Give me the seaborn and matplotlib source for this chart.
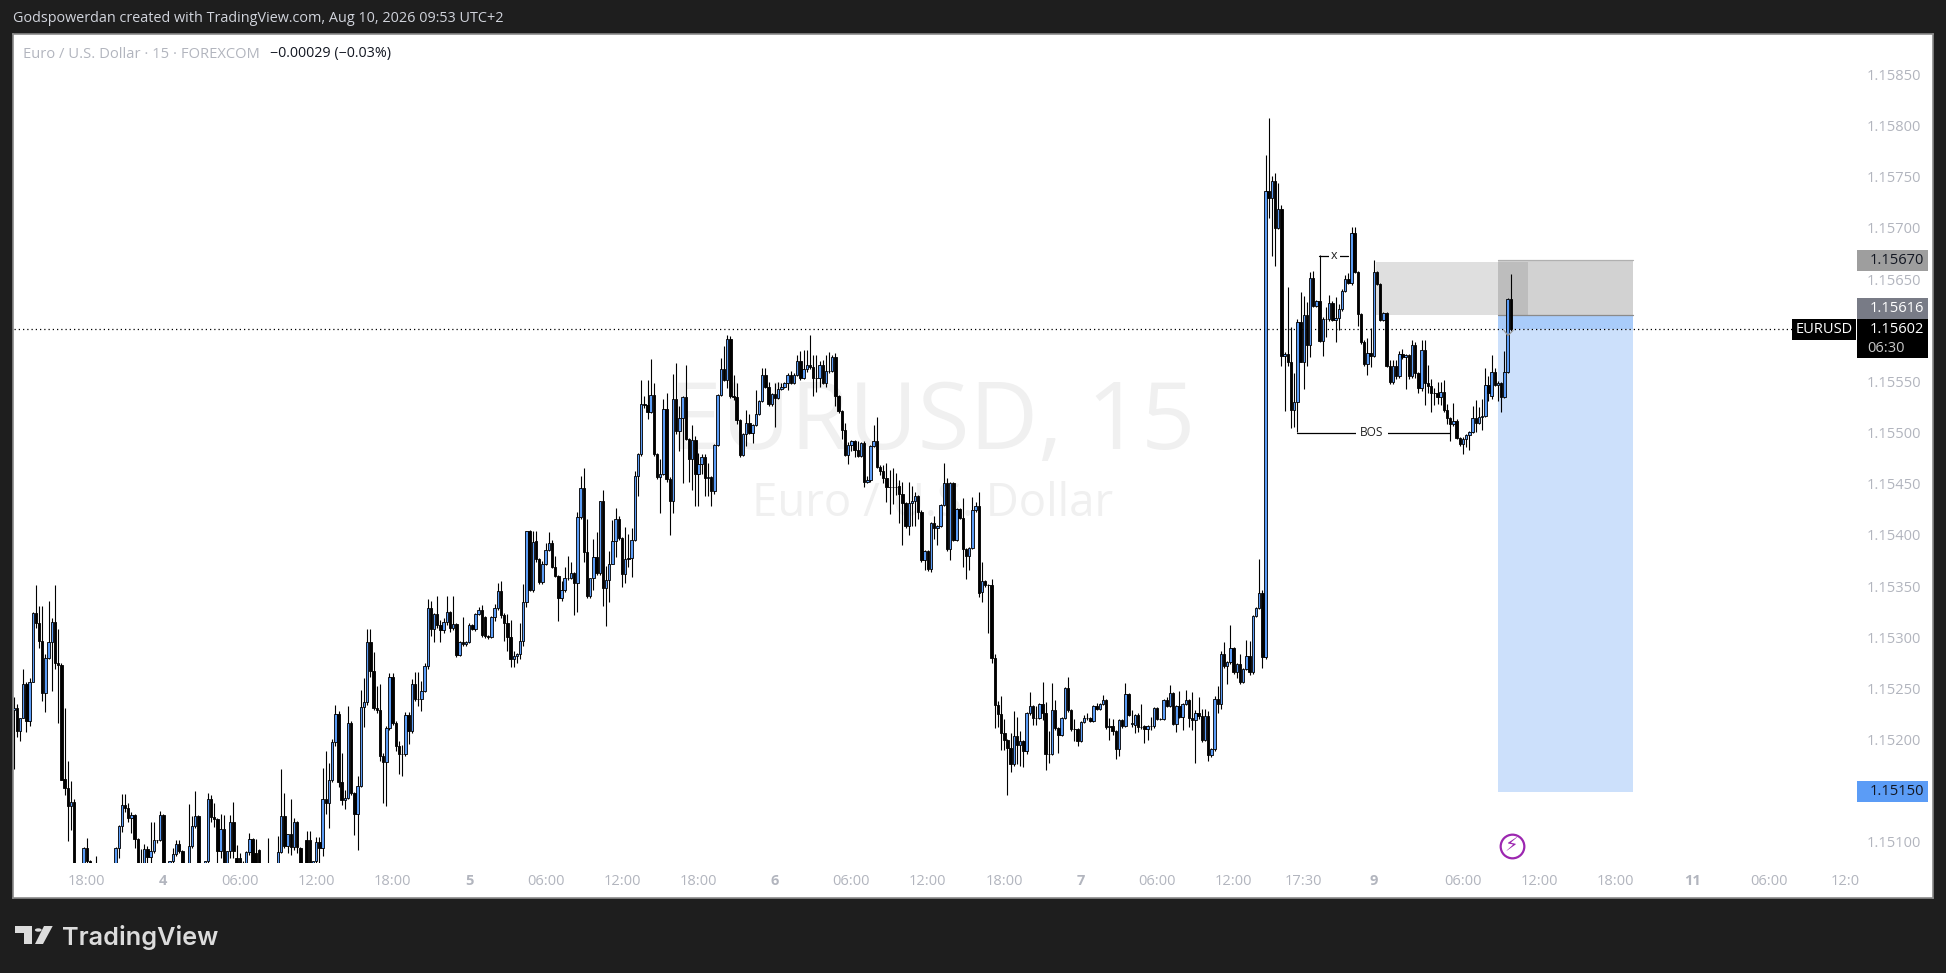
import matplotlib
matplotlib.use("Agg")
import matplotlib.pyplot as plt
from matplotlib.patches import Rectangle, Polygon, Circle
from matplotlib.transforms import ScaledTranslation
import numpy as np
import pandas as pd
import seaborn as sns

# Candle values, in points (0.00001) above 1.15000
opens = [230,232,209,222,255,219,257,325,315,297,
247,281,296,316,276,274,163,154,136,140,
70,62,70,95,82,79,72,74,66,68,
70,72,75,95,117,137,134,124,127,104,
75,78,94,86,92,103,103,127,78,75,
82,89,99,92,78,75,97,117,126,78,
76,82,143,125,123,92,114,78,92,120,
85,85,76,78,91,104,90,93,78,72,
75,77,72,78,91,126,97,109,96,120,
95,78,103,103,78,82,101,95,143,139,
162,199,226,160,142,144,217,149,128,156,
233,238,296,268,232,230,185,179,212,262,
217,195,187,187,225,209,255,241,241,249,
273,330,309,324,313,308,316,326,310,314,
284,296,294,296,313,309,324,328,321,302,
301,321,330,346,323,315,301,280,283,285,
297,336,405,347,395,378,355,373,386,393,
370,361,339,347,359,359,364,354,419,447,
384,341,359,380,364,434,349,357,373,395,
417,398,363,379,379,396,459,480,529,528,
521,538,480,458,461,524,456,434,534,503,
515,536,495,475,494,461,470,477,457,458,
444,489,538,563,553,593,537,536,513,479,
500,511,501,509,519,532,557,546,529,539,
535,544,546,550,557,550,557,571,555,563,
567,565,555,555,567,550,561,561,575,537,
522,504,479,489,493,484,478,491,453,455,
488,493,468,464,457,448,448,448,449,441,
432,410,432,434,439,424,377,385,368,413,
408,410,430,452,387,452,396,426,418,387,
381,388,425,429,345,356,352,352,281,235,
226,207,201,193,177,205,196,200,190,227,
234,222,222,236,227,187,187,230,212,206,
222,251,230,211,211,200,218,222,222,219,
234,231,236,240,213,214,209,192,220,214,
246,216,215,225,213,214,211,214,214,232,
221,221,240,234,247,216,234,223,236,240,
222,220,227,224,201,224,186,192,241,236,
285,273,277,291,267,275,257,270,283,267,
322,330,344,282,737,730,747,701,720,576,
578,570,523,531,609,570,616,587,652,625,
630,591,612,612,628,611,613,622,640,651,
647,696,658,617,590,568,579,576,658,646,
611,618,566,551,566,556,578,575,577,556,
587,559,545,582,550,547,540,540,536,541,
523,515,510,512,496,490,495,499,502,515,
511,516,517,548,537,560,548,550,536,560,632]

closes = [232,209,222,255,219,257,325,315,297,247,
281,296,316,276,274,162,154,136,140,70,
62,70,95,82,79,72,74,66,68,70,
72,75,95,117,137,134,124,127,104,78,
78,94,86,92,103,103,127,78,74,82,
89,99,92,78,75,97,117,126,78,76,
82,143,125,123,92,114,78,92,120,92,
78,78,80,91,104,78,78,78,72,70,
77,72,74,91,126,97,109,96,120,96,
78,74,78,78,82,101,95,143,139,162,
199,226,160,142,144,217,149,128,156,233,
238,296,268,232,230,185,179,212,262,217,
195,187,187,225,209,255,241,241,249,273,
330,309,324,313,308,316,326,310,314,284,
296,294,296,313,309,324,328,303,302,301,
321,330,346,323,315,301,280,283,285,297,
336,405,347,394,378,355,373,386,393,370,
361,339,347,359,359,364,354,419,447,384,
341,359,380,364,434,349,357,373,395,417,
398,363,378,378,396,459,480,529,528,521,
538,480,458,461,524,456,434,534,503,515,
536,495,475,494,461,470,477,457,458,444,
489,538,563,553,593,537,536,513,479,500,
511,501,509,519,532,557,546,529,539,535,
544,546,550,557,550,557,571,555,563,567,
565,555,555,567,550,561,561,575,537,522,
504,479,489,493,484,478,491,453,455,488,
493,468,464,457,448,448,448,448,441,432,
410,432,434,439,424,377,385,368,413,408,
410,430,452,387,452,396,426,418,387,381,
388,425,429,344,356,352,352,281,235,226,
207,201,193,177,205,196,200,190,227,234,
222,222,236,227,187,187,230,212,206,222,
251,230,211,211,200,218,222,222,219,234,
231,236,240,213,214,209,192,220,214,246,
225,217,225,213,213,211,214,214,232,221,
221,240,234,247,216,234,223,236,240,222,
220,227,224,201,224,186,192,241,236,285,
273,277,291,267,275,257,270,283,267,322,
330,344,282,737,730,747,701,720,576,578,
570,523,531,609,570,616,587,652,625,630,
591,612,612,628,611,613,622,640,651,647,
696,658,617,590,568,579,576,658,646,611,
618,566,551,566,556,578,575,577,556,587,
559,545,582,550,547,540,540,536,541,523,
515,510,512,496,490,495,499,502,515,511,
516,517,548,540,560,548,550,536,560,632,602]

highs = [243,236,222,270,257,261,326,352,332,332,
285,337,320,352,309,276,232,180,161,143,
76,74,96,105,83,80,87,78,72,74,
76,78,96,118,148,148,139,130,128,105,
94,99,97,120,120,103,131,128,79,82,
95,103,103,93,79,138,126,151,127,79,
82,149,147,139,124,128,127,92,127,140,
98,90,82,92,110,105,104,94,79,74,
105,78,76,107,172,149,109,143,124,121,
96,79,112,112,82,106,106,173,190,178,
202,235,229,188,152,234,219,150,165,250,
261,309,309,287,253,255,188,214,266,266,
219,200,196,228,228,260,267,267,258,276,
338,337,325,341,318,320,341,327,341,315,
297,321,297,315,314,325,331,333,322,303,
322,334,354,356,325,324,318,288,286,315,
353,405,406,405,405,379,376,393,404,396,
381,362,356,370,381,375,365,424,459,467,
417,359,397,404,434,445,371,385,416,427,
420,399,409,402,408,464,481,553,537,553,
573,550,481,475,534,540,458,558,569,527,
537,567,496,509,498,481,480,480,471,459,
490,539,574,586,597,596,557,550,514,501,
523,519,510,543,533,564,564,551,540,550,
551,550,551,559,561,559,577,581,582,582,
597,577,577,571,572,577,580,577,579,538,
523,511,492,494,494,493,492,493,459,489,
509,516,469,469,471,465,467,462,455,453,
433,453,449,443,440,425,386,386,414,420,
411,431,471,457,453,453,427,427,437,388,
389,438,433,443,375,357,353,358,285,239,
244,221,202,207,229,223,209,201,228,248,
235,234,237,257,238,209,256,240,213,223,
252,262,231,221,212,219,225,227,223,235,
237,237,245,241,222,221,210,221,221,256,
247,230,226,227,236,215,215,223,233,233,
222,241,243,254,248,235,249,237,250,241,
248,230,243,231,231,229,193,244,253,288,
296,278,313,292,276,285,271,298,297,323,
331,378,347,773,809,752,755,745,724,580,
643,604,559,612,639,635,629,658,659,631,
675,614,624,636,630,634,627,642,655,657,
702,702,659,618,592,594,603,670,659,647,
619,619,572,572,572,581,583,578,578,592,
590,560,592,592,567,554,545,551,551,553,
529,516,530,514,497,497,500,503,527,533,
526,534,564,556,577,564,552,551,581,633,656]

lows = [172,204,200,222,208,214,257,310,291,239,
228,280,249,270,217,162,147,102,113,60,
55,52,65,70,70,68,66,60,58,62,
60,64,70,85,111,130,120,110,95,70,
70,72,78,78,90,100,102,75,68,70,
80,87,90,70,66,70,95,115,72,70,
74,80,120,116,80,85,70,70,85,85,
72,72,70,72,88,72,70,70,66,62,
70,68,64,70,90,95,90,88,93,90,
72,70,72,72,75,78,80,87,128,115,
160,195,155,137,133,143,147,108,93,155,
213,235,262,230,227,180,139,136,210,215,
190,167,165,185,197,207,239,234,229,248,
270,302,296,310,296,305,313,306,308,282,
283,293,293,295,308,307,323,301,300,299,
300,317,328,320,297,288,272,272,276,280,
293,331,346,345,375,353,353,372,385,369,
360,317,337,345,357,358,323,326,417,375,
339,339,347,362,362,332,312,336,373,380,
396,350,354,370,360,395,439,478,525,514,
520,478,456,423,460,453,401,423,500,483,
452,494,453,445,429,429,461,439,439,429,
441,488,537,552,545,535,533,510,477,478,
488,500,491,508,518,531,545,527,527,507,
534,543,545,543,549,549,556,553,554,560,
563,537,541,546,549,546,559,560,527,520,
495,478,470,483,477,477,477,448,452,453,
487,467,460,452,433,422,431,440,413,391,
408,401,410,410,417,375,367,366,365,397,
391,409,429,385,377,395,395,417,370,358,
367,387,424,340,336,350,305,276,212,213,
191,191,147,169,175,177,175,174,187,225,
215,215,221,220,171,178,186,210,188,205,
221,228,209,200,195,199,217,220,218,218,
230,230,235,211,201,206,182,185,212,213,
224,213,207,208,211,198,201,210,212,220,
220,220,233,233,215,208,222,210,235,213,
210,178,221,199,200,180,184,190,227,231,
271,255,275,265,261,255,256,269,264,265,
321,329,271,280,711,674,664,700,566,522,
566,506,507,502,570,544,566,575,624,624,
590,576,595,610,610,590,601,620,639,646,
645,657,605,588,566,557,565,575,645,610,
610,565,549,549,554,555,573,544,554,555,
555,540,542,528,540,521,528,529,528,521,
510,493,508,495,488,480,487,484,501,502,
510,504,516,532,534,547,532,521,535,559,600]

price_ticks = [1.151,1.152,1.1525,1.153,1.1535,1.154,1.1545,1.155,1.1555,1.1565,1.157,1.1575,1.158,1.1585]
time_tick_bars = [23,47,71,95,119,143,167,191,215,239,263,287,311,335,359,383,405,427,455,479,503,527,551,575]
time_tick_labels = ["18:00","4","06:00","12:00","18:00","5","06:00","12:00","18:00","6","06:00","12:00","18:00","7","06:00","12:00","17:30","9","06:00","12:00","18:00","11","06:00","12:0"]
day_labels = {"4","5","6","7","9","11"}
last_price = 1.15602
stop_price = 1.15670
entry_price = 1.15616
target_price = 1.15150
swing_top = 1.15668
bos_price = 1.15501
x_price = 1.15674

W, H = 1946, 973
BG = "#1e1e1e"
UP = "#5b9cf6"
TICK = "#b2b5be"

sns.set_theme(style="white")
plt.rcParams["font.family"] = ["Open Sans", "DejaVu Sans"]

assert len(opens) == len(closes) == len(highs) == len(lows)

fig = plt.figure(figsize=(W / 100, H / 100), dpi=100, facecolor=BG)
L, R, T, B = 14, 1932, 34, 863
FL, FR, FT, FB = 13, 1933, 33.5, 897.5
frame = fig.add_axes([FL / W, 1 - FB / H, (FR - FL) / W, (FB - FT) / H], facecolor="white")
frame.set_xticks([]); frame.set_yticks([])
for s in frame.spines.values():
    s.set_color("#8a8a8a"); s.set_linewidth(1.2)

ax = fig.add_axes([L / W, 1 - B / H, (R - L) / W, (B - T) / H], facecolor="none")

o = 1.15 + np.array(opens) / 1e5
c = 1.15 + np.array(closes) / 1e5
hi = 1.15 + np.array(highs) / 1e5
lo = 1.15 + np.array(lows) / 1e5
df = pd.DataFrame({"bar": np.arange(len(o)), "low": np.minimum(o, c), "height": np.abs(c - o), "up": c >= o})

def bx(px):
    return (px - 13.6) / 3.1855

# Zones
ax.add_patch(Rectangle((bx(1376), entry_price), bx(1528) - bx(1376), swing_top - entry_price, fc="#808080", alpha=.25, ec="none", zorder=1))
ax.add_patch(Rectangle((bx(1498), target_price), bx(1633) - bx(1498), entry_price - target_price, fc="#cce0fb", ec="none", zorder=1))
ax.add_patch(Rectangle((bx(1498), last_price), bx(1633) - bx(1498), entry_price - last_price, fc="#a9ccfa", ec="none", zorder=1.1))
ax.add_patch(Rectangle((bx(1498), entry_price), bx(1633) - bx(1498), stop_price - entry_price, fc="#808080", alpha=.35, ec="none", zorder=1.2))
ax.plot([bx(1498), bx(1633)], [entry_price] * 2, color="#8a8a8a", lw=.9, zorder=1.3)
ax.plot([bx(1498), bx(1633)], [stop_price] * 2, color="#b0b0b0", lw=.9, zorder=1.3)

# Watermark
ax.text(bx(932), 1.15 + 509 / 1e5, "EURUSD, 15", fontsize=68, color="#f0f0f0", ha="center", va="center", zorder=.5)
ax.text(bx(933), 1.15 + 431 / 1e5, "Euro / U.S. Dollar", fontsize=32.8, color="#f0f0f0", ha="center", va="center", zorder=.5)

# Candles
ax.vlines(df["bar"], lo, hi, color="black", lw=.8, zorder=2)
for is_up, col in ((True, UP), (False, "black")):
    sub = df[df["up"] == is_up]
    sns.barplot(data=sub, x="bar", y="height", bottom=sub["low"].values, native_scale=True, width=.76,
                color=col, saturation=1, edgecolor="black", linewidth=.62, errorbar=None, ax=ax, zorder=3)

# Current price line
ax.plot([bx(L), bx(1792)], [last_price] * 2, color="black", lw=.9, dashes=(1, 2.4), zorder=2.5)

# Annotations
ax.plot([bx(1297), bx(1450)], [bos_price] * 2, color="black", lw=.9, zorder=4)
ax.text(bx(1372), bos_price, "BOS", fontsize=8.6, color="#222222", ha="center", va="center", zorder=5,
        bbox=dict(fc="white", ec="none", pad=3.2))
ax.plot([bx(1319), bx(1348)], [x_price] * 2, color="black", lw=.9, zorder=4)
ax.text(bx(1334), x_price, "x", fontsize=9, color="#222222", ha="center", va="center", zorder=5,
        bbox=dict(fc="white", ec="none", pad=1.6))
ax.plot([bx(1504), bx(1508), bx(1513)], [1.15 + 601 / 1e5, 1.15 + 596 / 1e5, 1.15 + 601 / 1e5], color="#9a9a9a", lw=.9, zorder=3.5)

# Lightning event marker
ax.scatter([bx(1511.7)], [1.15097], s=290, facecolor="white", edgecolor="#9c27b0", linewidth=1.6, zorder=5, clip_on=False)
ax.text(bx(1511.7), 1.15097, "\u26A1", family=["DejaVu Sans"], fontsize=14, color="#9c27b0", ha="center", va="center", zorder=6)

# Axes
ax.set_xlim(bx(L), bx(R))
ax.set_ylim(1.15 + 80.4 / 1e5, 1.15 + 890.8 / 1e5)
ax.yaxis.tick_right()
ax.set_yticks(price_ticks)
ax.set_yticklabels([f"{v:.5f}" for v in price_ticks])
ax.tick_params(axis="y", length=0, pad=-47, labelsize=10.5, labelcolor=TICK)
up_px = ScaledTranslation(0, 1.2 / 100, fig.dpi_scale_trans)
for t in ax.get_yticklabels():
    t.set_transform(t.get_transform() + up_px)
ax.set_xticks(time_tick_bars)
ax.set_xticklabels(time_tick_labels)
ax.tick_params(axis="x", length=0, pad=8, labelsize=10.5, labelcolor=TICK)
for t, s in zip(ax.get_xticklabels(), time_tick_labels):
    if s in day_labels:
        t.set_fontweight("bold")
ax.set_xlabel(""); ax.set_ylabel("")
for s in ax.spines.values():
    s.set_visible(False)
ax.grid(False)

# Price labels
def plabel(price, text, bg, fg, x0=1857, x1=1928, half=10.4):
    hgt = half / 1.0233 / 1e5
    ax.add_patch(Rectangle((bx(x0), price - hgt), bx(x1) - bx(x0), 2 * hgt, fc=bg, ec="none", zorder=7, clip_on=False))
    return ax.text(bx(x1 - 4), price, text, color=fg, fontsize=10.5, ha="right", va="center", zorder=8)

plabel(stop_price - 0.000005, "1.15670", "#9e9e9e", "#131722")
plabel(entry_price + 0.000063, "1.15616", "#787b86", "white")
ax.add_patch(Rectangle((bx(1857), last_price - 29 / 1.0233 / 1e5), bx(1928) - bx(1857), 39.5 / 1.0233 / 1e5, fc="black", ec="none", zorder=7))
ax.text(bx(1924), last_price, "1.15602", color="white", fontsize=10.5, ha="right", va="center", zorder=8)
ax.text(bx(1867), last_price - 18.5 / 1e5, "06:30", color="#c8c8c8", fontsize=10.5, ha="left", va="center", zorder=8)
eur = plabel(last_price, "EURUSD", "black", "white", x0=1792, x1=1856)
eur.set_x(bx(1824)); eur.set_ha("center")
plabel(target_price, "1.15150", UP, "#131722")

# Header and legend
fig.text(13 / W, 1 - 19 / H, "Godspowerdan created with TradingView.com, Aug 10, 2026 09:53 UTC+2", color="#d1d4dc", fontsize=10.4, va="center")
fig.text(23 / W, 1 - 54 / H, "Euro / U.S. Dollar \u00b7 15 \u00b7 FOREXCOM", color=TICK, fontsize=10.6, va="center")
fig.text(270 / W, 1 - 54 / H, "\u22120.00029 (\u22120.03%)", color="#131722", fontsize=10.3, va="center")

# Footer logo
logo = "#dcdcdc"
def fp(pts):
    return [(x / W, 1 - y / H) for x, y in pts]
fig.patches.append(Polygon(fp([(15, 926), (32, 926), (32, 944), (24, 944), (24, 933), (15, 933)]), closed=True, fc=logo, ec="none", transform=fig.transFigure))
fig.patches.append(Polygon(fp([(44, 926), (52.7, 926), (43, 944), (35, 944)]), closed=True, fc=logo, ec="none", transform=fig.transFigure))
fig.patches.append(Circle((38.3 / W, 1 - 930 / H), 3.4 / W, fc=logo, ec="none", transform=fig.transFigure))
fig.text(62 / W, 1 - 937 / H, "TradingView", color=logo, fontsize=18.2, fontweight="semibold", family=["Inter", "DejaVu Sans"], va="center")

fig.savefig("out.png", dpi=100, facecolor=BG)
